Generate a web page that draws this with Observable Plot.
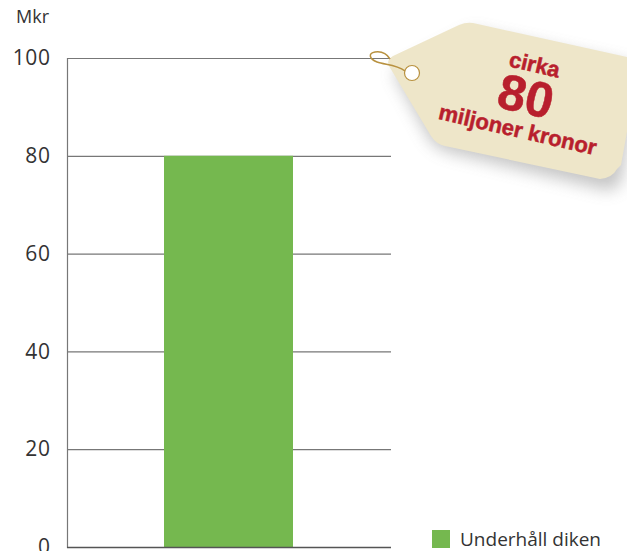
<!DOCTYPE html>
<html><head><meta charset="utf-8">
<script src="https://cdn.jsdelivr.net/npm/d3@7"></script>
<script src="https://cdn.jsdelivr.net/npm/@observablehq/plot@0.6"></script>
<style>
html,body{margin:0;padding:0;background:#fff;overflow:hidden}
#wrap{position:relative;width:627px;height:551px;overflow:hidden;font-family:"Open Sans",sans-serif;color:#333}
#chart svg{display:block}
#legend{position:absolute;left:432px;top:530px;display:flex;align-items:center;font-size:19px;line-height:18px;white-space:nowrap}
#legend i{display:block;width:18px;height:18px;margin-right:10px}
#unit{position:absolute;left:16px;top:4px;font-size:18px}
#tag{position:absolute;left:0;top:0}
</style></head>
<body><div id="wrap"><div id="chart"></div><div id="unit"></div><div id="legend"></div>
<svg id="tag" width="627" height="551" xmlns="http://www.w3.org/2000/svg">
<defs><filter id="sh" x="-20%" y="-20%" width="140%" height="140%"><feGaussianBlur stdDeviation="8"/></filter></defs>
<path d="M393,72 L473,31 L640,67 L622,178 Q618,192 606,190 L448,152 Q436,148 430,140 Z" fill="#777" opacity=".42" filter="url(#sh)"/>
<path d="M389,66 Q386,60 393,56 L459,25 Q466,22 473,23 L640,60 L621,165 L617,169 Q612,178 600,179 L445,146 Q436,144 431,136 Z" fill="#eee6c9"/>
<circle cx="412" cy="73" r="7.5" fill="#fff" stroke="#b8913f" stroke-width="1.2"/>
<path d="M405,71 C396,64 385,65 377,62 C369,59 368,53 375,52 C382,51 387,54 390,59" fill="none" stroke="#b8913f" stroke-width="1.5"/>
<g fill="#b81f2d" stroke="#b81f2d" stroke-width=".5" font-family="Liberation Sans" font-weight="700" text-anchor="middle">
<text id="t1" transform="translate(533,72) rotate(13)" font-size="22"></text>
<text id="t2" transform="translate(522,113) rotate(13)" font-size="50"></text>
<text id="t3" transform="translate(516,137) rotate(13)" font-size="22"></text>
</g></svg></div>
<script>
const categories = ["Underhåll diken"];
const values = [80];
const yTicks = [0, 20, 40, 60, 80, 100];
const unitLabel = "Mkr";
const tagLines = ["cirka", "80", "miljoner kronor"];
const barColor = "#75b84f";

const data = categories.map((c, i) => ({category: c, value: values[i]}));
const plot = Plot.plot({
  width: 627, height: 551,
  marginLeft: 67, marginRight: 236, marginTop: 58, marginBottom: 4,
  style: {fontFamily: '"Open Sans",sans-serif', fontSize: "21px", letterSpacing: "0.6px", color: "#333", background: "transparent"},
  x: {domain: categories, padding: 0.4286, axis: null},
  y: {domain: [0, 100], ticks: yTicks, label: null},
  marks: [
    Plot.ruleY(yTicks, {stroke: "#777", strokeWidth: 1.2, strokeOpacity: 1}),
    Plot.axisY(yTicks, {tickSize: 0, tickPadding: 17, label: null, fill: "#333"}),
    Plot.frame({anchor: "left", stroke: "#777", strokeWidth: 1.2}),
    Plot.barY(data, {x: "category", y: "value", fill: barColor}),
    Plot.ruleY([0], {stroke: "#555", strokeWidth: 1.5})
  ]
});
document.getElementById("chart").append(plot);
document.getElementById("unit").textContent = unitLabel;
const lg = document.getElementById("legend");
const sw = document.createElement("i"); sw.style.background = barColor;
const lb = document.createElement("span"); lb.textContent = categories[0];
lg.append(sw, lb);
tagLines.forEach((t, i) => document.getElementById("t" + (i + 1)).textContent = t);
</script></body></html>
